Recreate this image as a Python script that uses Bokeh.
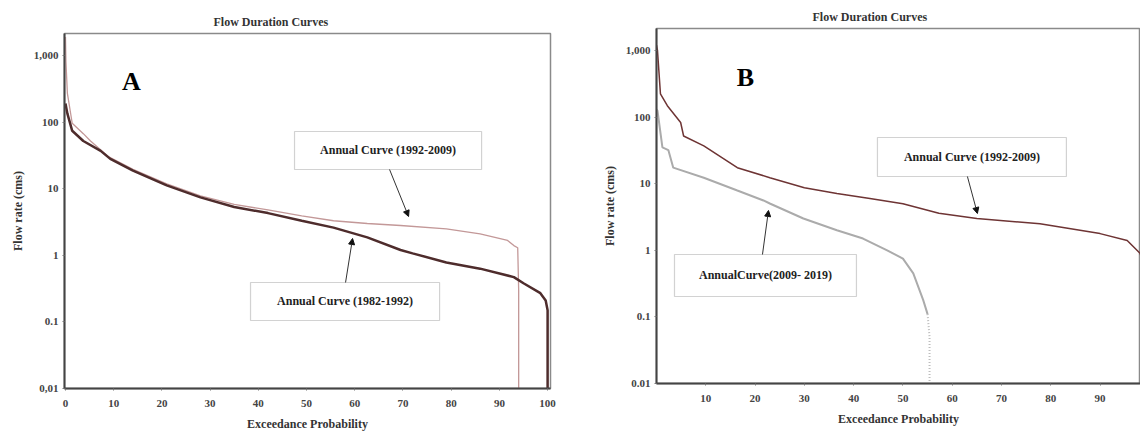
from bokeh.plotting import figure
from bokeh.models import (Range1d, FixedTicker, BoxAnnotation, Label, Arrow, NormalHead,
                          CustomJSTickFormatter)
from bokeh.embed import file_html
from bokeh.resources import INLINE

# ---------------- data ----------------
# Panel A
A_X_1982_1992 = [0, 0.4, 1.4, 3.7, 7.3, 9.3, 14, 21, 28, 35, 42, 49, 55.6, 62.6, 69.5, 72, 79, 86, 93, 95, 98.5, 99.6, 100, 100]
A_Y_1982_1992 = [190, 134, 74, 52, 37, 28, 18.7, 11.2, 7.4, 5.3, 4.3, 3.3, 2.6, 1.86, 1.2, 1.07, 0.78, 0.63, 0.47, 0.38, 0.27, 0.21, 0.15, 0.01]
A_X_1992_2009 = [0, 0.1, 0.4, 1.4, 3.7, 5.2, 9, 14, 21, 28, 35, 42, 49, 55.6, 62.6, 69.5, 79, 86, 91.7, 93, 93.8, 94, 94]
A_Y_1992_2009 = [1900, 800, 270, 96, 67, 52, 30, 19.5, 11.8, 7.8, 5.8, 4.8, 3.9, 3.3, 3.0, 2.8, 2.5, 2.1, 1.67, 1.4, 1.3, 0.3, 0.01]
# Panel B
B_X_1992_2009 = [0, 0.2, 0.8, 2.2, 4.9, 5.5, 9.6, 16.4, 23, 30, 36.6, 43.3, 50, 57.3, 65, 77.8, 90, 95.5, 98.1, 99, 100]
B_Y_1992_2009 = [1200, 1000, 224, 148, 83, 52, 37, 17.4, 12.3, 8.7, 7.1, 6.0, 5.0, 3.6, 3.0, 2.5, 1.78, 1.4, 0.9, 0.6, 0.4]
B_X_2009_2019 = [0, 0.2, 1.2, 2.4, 3.4, 9.6, 16.4, 21.7, 23.1, 29.8, 36.6, 41.9, 46.8, 50, 52.1, 54.1, 55, 55.4, 55.4]
B_Y_2009_2019 = [130, 125, 35, 32, 17.4, 12.3, 7.9, 5.6, 5.0, 3.0, 2.0, 1.5, 1.0, 0.75, 0.45, 0.18, 0.11, 0.05, 0.01]
B_DOTTED_TAIL = 3  # last points drawn dotted

Y_TICKS = [0.01, 0.1, 1, 10, 100, 1000]
Y_LABELS_A = ["0,01", "0.1", "1", "10", "100", "1,000"]
Y_LABELS_B = ["0.01", "0.1", "1", "10", "100", "1,000"]
X_TICKS_A = [0, 10, 20, 30, 40, 50, 60, 70, 80, 90, 100]
X_TICKS_B = [10, 20, 30, 40, 50, 60, 70, 80, 90]

TITLE = "Flow Duration Curves"
X_LABEL = "Exceedance Probability"
Y_LABEL = "Flow rate (cms)"

FONT = "Liberation Serif"

# two independent roots placed side by side (no frame alignment between them)
TEMPLATE = """
{% block postamble %}
<style>
  body { display: flex !important; flex-direction: row; align-items: flex-start; }
</style>
{% endblock %}
"""


def make_panel(width, height, borders, x_range, y_labels, x_ticks, title_offset):
    bl, br, bt, bb = borders
    p = figure(width=width, height=height, y_axis_type="log",
               x_range=Range1d(*x_range), y_range=Range1d(0.01, 2138),
               output_backend="svg", toolbar_location=None,
               min_border_left=bl, min_border_right=br,
               min_border_top=bt, min_border_bottom=bb,
               background_fill_color="white", border_fill_color="white")
    p.grid.visible = False
    p.outline_line_color = "#8a8a8a"
    p.outline_line_width = 1.5
    p.title.text = TITLE
    p.title.text_font = FONT
    p.title.text_font_style = "bold"
    p.title.text_font_size = "12px"
    p.title.text_color = "#333333"
    p.title.align = "left"
    p.title.offset = title_offset
    p.title.standoff = 10

    p.yaxis.ticker = FixedTicker(ticks=Y_TICKS, minor_ticks=[])
    p.yaxis.formatter = CustomJSTickFormatter(
        args=dict(tvals=Y_TICKS, tlabels=y_labels),
        code="""
        for (let i = 0; i < tvals.length; i++) {
            if (Math.abs(Math.log10(tick) - Math.log10(tvals[i])) < 1e-6) { return tlabels[i]; }
        }
        return '';
        """)
    p.xaxis.ticker = FixedTicker(ticks=x_ticks, minor_ticks=[])
    for ax in (p.xaxis[0], p.yaxis[0]):
        ax.axis_line_color = "#444444"
        ax.axis_line_width = 2
        ax.major_tick_in = 0
        ax.major_tick_out = 2
        ax.major_tick_line_color = "#777777"
        ax.minor_tick_line_color = None
        ax.major_label_text_font = FONT
        ax.major_label_text_font_style = "bold"
        ax.major_label_text_font_size = "11px"
        ax.major_label_text_color = "#444444"
        ax.axis_label_text_font = FONT
        ax.axis_label_text_font_style = "bold"
        ax.axis_label_text_font_size = "12px"
        ax.axis_label_text_color = "#333333"
    p.xaxis.axis_label = X_LABEL
    p.yaxis.axis_label = Y_LABEL
    p.xaxis.major_label_standoff = 9
    p.xaxis.axis_label_standoff = 7
    p.yaxis.major_label_standoff = 4
    p.yaxis.axis_label_standoff = 6
    return p


def annotate(p, geo, box, text, arrow_from, arrow_to, size="12px"):
    x0, sx, yb, dec = geo

    def px(xp, yp):
        return (xp - x0) / sx, 10 ** (-2 + (yb - yp) / dec)

    l, t = px(box[0], box[1])
    r, b = px(box[2], box[3])
    p.add_layout(BoxAnnotation(left=l, right=r, top=t, bottom=b,
                               fill_color="white", fill_alpha=1,
                               line_color="#6a6a6a", line_width=1.2))
    cx, cy = px((box[0] + box[2]) / 2, (box[1] + box[3]) / 2)
    p.add_layout(Label(x=cx, y=cy, text=text, text_align="center", text_baseline="middle",
                       text_font=FONT, text_font_style="bold", text_font_size=size,
                       text_color="#222222"))
    xs, ys = px(*arrow_from)
    xe, ye = px(*arrow_to)
    p.add_layout(Arrow(end=NormalHead(size=6, fill_color="#111111", line_color="#111111"),
                       x_start=xs, y_start=ys, x_end=xe, y_end=ye,
                       line_color="#333333", line_width=1))


def letter(p, geo, pos, text):
    x0, sx, yb, dec = geo
    x = (pos[0] - x0) / sx
    y = 10 ** (-2 + (yb - pos[1]) / dec)
    p.add_layout(Label(x=x, y=y, text=text, text_align="center", text_baseline="middle",
                       text_font=FONT, text_font_style="bold", text_font_size="26px",
                       text_color="black"))


# ---------------- Panel A ----------------
pA = make_panel(570, 434, (64, 20, 33, 46), (-0.2, 100.6), Y_LABELS_A, X_TICKS_A, 149)
pA.line(A_X_1992_2009, A_Y_1992_2009, line_color="#c39898", line_width=1.3)
pA.line(A_X_1982_1992, A_Y_1982_1992, line_color="#4e2c2c", line_width=2.5)
geoA = (65, 4.82, 388, 66.6)
annotate(pA, geoA, (294, 131, 481, 169), "Annual Curve (1992-2009)", (389, 169), (408, 216))
annotate(pA, geoA, (250, 282, 439, 320), "Annual Curve (1982-1992)", (345, 282), (352, 238))
letter(pA, geoA, (131, 81), "A")

# ---------------- Panel B ----------------
pB = make_panel(570, 434, (86, 0, 28, 51), (0, 98.2), Y_LABELS_B, X_TICKS_B, 156)
pB.line(B_X_1992_2009, B_Y_1992_2009, line_color="#6e3434", line_width=1.5)
n = len(B_X_2009_2019) - B_DOTTED_TAIL
pB.line(B_X_2009_2019[:n + 1], B_Y_2009_2019[:n + 1], line_color="#ababab", line_width=2)
pB.line(B_X_2009_2019[n:], B_Y_2009_2019[n:], line_color="#bdbdbd", line_width=2, line_dash="1 2")
geoB = (656, 4.93, 383, 66.6)
annotate(pB, geoB, (877, 137, 1066, 176), "Annual Curve (1992-2009)", (967, 176), (977, 213))
annotate(pB, geoB, (674, 254, 856, 296), "AnnualCurve(2009- 2019)", (762, 254), (768, 210))
letter(pB, geoB, (745, 77), "B")

open("out.html", "w").write(file_html([pA, pB], INLINE, template=TEMPLATE))
